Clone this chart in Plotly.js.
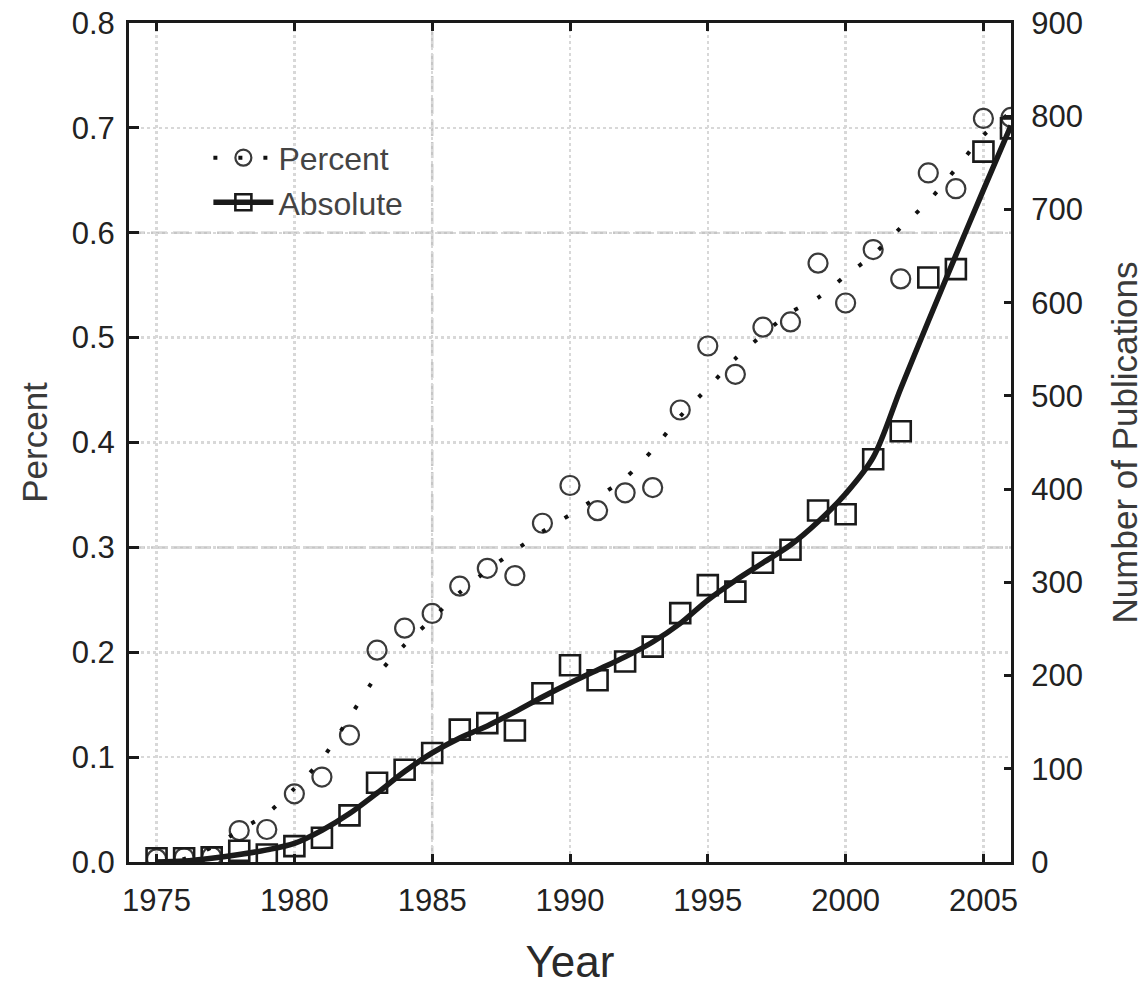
<!DOCTYPE html>
<html>
<head>
<meta charset="utf-8">
<script src="https://cdn.plot.ly/plotly-3.0.1.min.js"></script>
<style>
  html, body { margin: 0; padding: 0; background: #ffffff; }
  #chart { width: 1144px; height: 986px; }
</style>
</head>
<body>
<div id="chart"></div>
<script>
// Years (x categories)
const years = [1975, 1976, 1977, 1978, 1979, 1980, 1981, 1982, 1983, 1984,
               1985, 1986, 1987, 1988, 1989, 1990, 1991, 1992, 1993, 1994,
               1995, 1996, 1997, 1998, 1999, 2000, 2001, 2002, 2003, 2004,
               2005, 2006];

// Percent (left axis) – observed points
const percentVals = [0.003, 0.004, 0.005, 0.030, 0.031, 0.065, 0.081, 0.121, 0.202, 0.223,
                     0.237, 0.263, 0.280, 0.273, 0.323, 0.359, 0.335, 0.352, 0.357, 0.431,
                     0.492, 0.465, 0.510, 0.515, 0.571, 0.533, 0.584, 0.556, 0.657, 0.642,
                     0.709, 0.710];

// Percent – smoothed fit (dotted curve)
const percentFit = [0.000, 0.003, 0.014, 0.030, 0.046, 0.070, 0.098, 0.138, 0.178, 0.207,
                    0.232, 0.257, 0.278, 0.297, 0.315, 0.331, 0.348, 0.366, 0.393, 0.425,
                    0.452, 0.480, 0.503, 0.524, 0.538, 0.559, 0.579, 0.605, 0.630, 0.661,
                    0.693, 0.715];

// Absolute number of publications (right axis) – observed points
const absoluteVals = [4, 4, 5, 12, 8, 17, 26, 50, 85, 99,
                      117, 142, 149, 141, 181, 211, 195, 215, 231, 267,
                      297, 290, 321, 335, 377, 373, 432, 462, 627, 636,
                      762, 787];

// Absolute – smoothed fit (solid curve)
const absoluteFit = [0, 1, 4, 8, 13, 20, 34, 52, 74, 97,
                     117, 133, 146, 161, 177, 192, 206, 220, 236, 256,
                     281, 302, 321, 340, 365, 395, 434, 508, 580, 651,
                     721, 790];

// Axis ticks
const xTicks = [1975, 1980, 1985, 1990, 1995, 2000, 2005];
const yTicks = [0, 0.1, 0.2, 0.3, 0.4, 0.5, 0.6, 0.7, 0.8];
const yTickText = ['0.0', '0.1', '0.2', '0.3', '0.4', '0.5', '0.6', '0.7', '0.8'];
const y2Ticks = [0, 100, 200, 300, 400, 500, 600, 700, 800, 900];
const dashedYGrid = [0.3, 0.6];
const dashedXGrid = [1985];

const FONT = '"Liberation Sans", Arial, sans-serif';
const INK = '#1a1a1a';

const traces = [
  {
    x: years, y: percentVals, yaxis: 'y', type: 'scatter', mode: 'markers',
    showlegend: false, cliponaxis: true,
    marker: { symbol: 'circle-open', size: 19, color: '#3a3a3a', line: { width: 2.2, color: '#3a3a3a' } }
  },
  {
    x: years, y: absoluteVals, yaxis: 'y2', type: 'scatter', mode: 'markers',
    showlegend: false, cliponaxis: true,
    marker: { symbol: 'square-open', size: 20, color: INK, line: { width: 2.6, color: INK } }
  },
  {
    x: years, y: percentFit, yaxis: 'y', type: 'scatter', mode: 'lines',
    showlegend: false,
    line: { shape: 'spline', smoothing: 0.8, width: 4, color: '#111', dash: '4px,22px' }
  },
  {
    x: years, y: absoluteFit, yaxis: 'y2', type: 'scatter', mode: 'lines',
    showlegend: false,
    line: { shape: 'spline', smoothing: 0.9, width: 5.5, color: INK }
  },
  // legend entries
  {
    x: [null], y: [null], yaxis: 'y', type: 'scatter', mode: 'lines+markers', name: 'Percent',
    line: { width: 4, color: '#111', dash: '4px,21px' },
    marker: { symbol: 'circle-open', size: 17, color: '#3a3a3a', line: { width: 2.2, color: '#3a3a3a' } }
  },
  {
    x: [null], y: [null], yaxis: 'y', type: 'scatter', mode: 'lines+markers', name: 'Absolute',
    line: { width: 5.5, color: INK },
    marker: { symbol: 'square-open', size: 18, color: INK, line: { width: 2.6, color: INK } }
  }
];

const shapes = [];
dashedYGrid.forEach(v => shapes.push({
  type: 'line', layer: 'below', xref: 'paper', x0: 0, x1: 1, yref: 'y', y0: v, y1: v,
  line: { color: '#c6c6c6', width: 2.5, dash: '16px,6px' }
}));
dashedXGrid.forEach(v => shapes.push({
  type: 'line', layer: 'below', yref: 'paper', y0: 0, y1: 1, xref: 'x', x0: v, x1: v,
  line: { color: '#c6c6c6', width: 2.5, dash: '16px,6px' }
}));

const layout = {
  width: 1144, height: 986,
  margin: { l: 129, r: 133, t: 23, b: 124, pad: 0 },
  paper_bgcolor: '#ffffff', plot_bgcolor: '#ffffff',
  font: { family: FONT, color: '#222', size: 31 },
  showlegend: true,
  legend: {
    x: 0.09, y: 0.872, xanchor: 'left', yanchor: 'top',
    bgcolor: 'rgba(0,0,0,0)', borderwidth: 0,
    font: { family: FONT, size: 32, color: '#444' },
    itemwidth: 60, tracegroupgap: 0
  },
  xaxis: {
    range: [1974, 2006], tickmode: 'array', tickvals: xTicks,
    ticks: 'inside', ticklen: 8, tickwidth: 3, tickcolor: INK,
    showline: true, linewidth: 3, linecolor: INK, mirror: 'ticks',
    showgrid: true, gridcolor: '#d8d8d8', gridwidth: 2.5, griddash: 'dot',
    zeroline: false,
    tickfont: { family: FONT, size: 31, color: '#222' },
    ticklabelstandoff: 9,
    title: { text: 'Year', font: { family: FONT, size: 44, color: '#2a2a2a' }, standoff: 32 }
  },
  yaxis: {
    range: [0, 0.8], tickmode: 'array', tickvals: yTicks, ticktext: yTickText,
    ticks: 'inside', ticklen: 10, tickwidth: 3, tickcolor: INK,
    showline: true, linewidth: 3, linecolor: INK, mirror: false,
    showgrid: true, gridcolor: '#d8d8d8', gridwidth: 2.5, griddash: 'dot',
    zeroline: false,
    tickfont: { family: FONT, size: 31, color: '#222' },
    ticklabelstandoff: 5,
    title: { text: 'Percent', font: { family: FONT, size: 35, color: '#3a3a3a' }, standoff: 14 }
  },
  yaxis2: {
    range: [0, 900], overlaying: 'y', side: 'right', tickmode: 'array', tickvals: y2Ticks,
    ticks: 'inside', ticklen: 7, tickwidth: 3, tickcolor: INK,
    showline: true, linewidth: 3, linecolor: INK,
    showgrid: false, zeroline: false,
    tickfont: { family: FONT, size: 31, color: '#222' },
    ticklabelstandoff: 11,
    title: { text: 'Number of Publications', font: { family: FONT, size: 35, color: '#3a3a3a' }, standoff: 40 }
  },
  shapes: shapes
};

Plotly.newPlot('chart', traces, layout, { displayModeBar: false, staticPlot: true });
</script>
</body>
</html>
